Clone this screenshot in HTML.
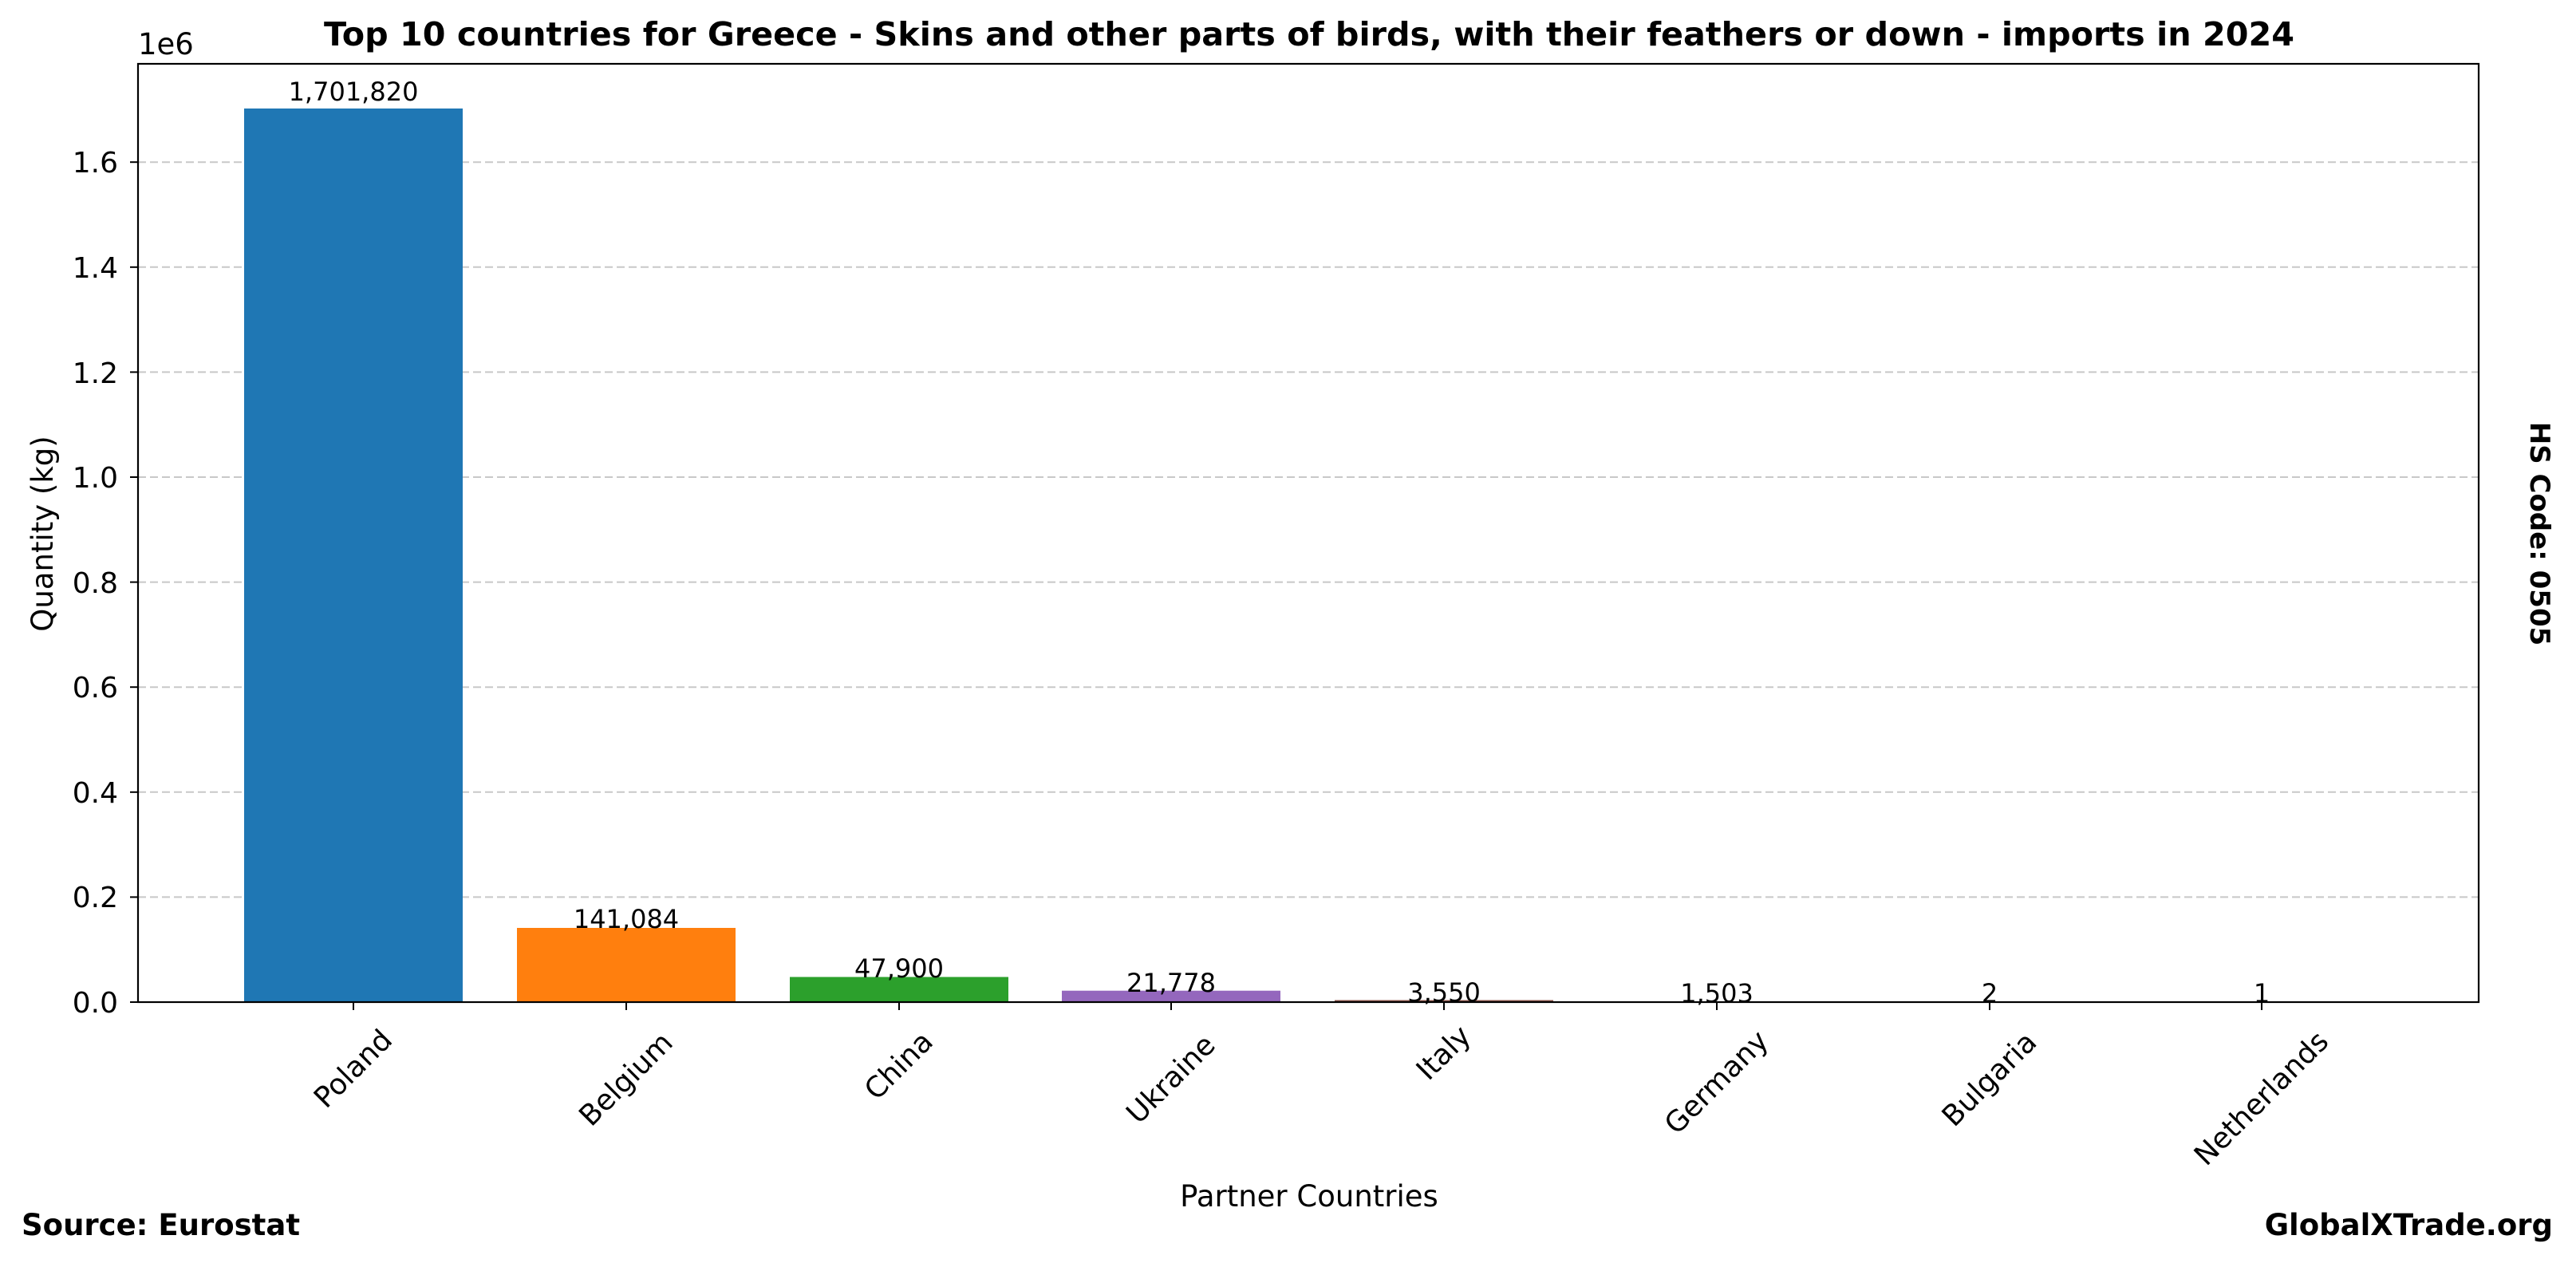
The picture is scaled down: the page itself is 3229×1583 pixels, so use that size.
<!DOCTYPE html>
<html><head><meta charset="utf-8"><style>
html,body{margin:0;padding:0;background:#fff;}
svg{display:block;font-family:"DejaVu Sans","Liberation Sans",sans-serif;}
</style></head><body>
<svg width="3229" height="1583" viewBox="0 0 3229 1583" xmlns="http://www.w3.org/2000/svg">
<rect width="3229" height="1583" fill="#fff"/>
<text x="1641" y="57" text-anchor="middle" font-size="41.3" font-weight="bold">Top 10 countries for Greece - Skins and other parts of birds, with their feathers or down - imports in 2024</text>
<g stroke="#c8c8c8" stroke-width="2" stroke-dasharray="10,5">
<line x1="173" x2="3107" y1="1124.4" y2="1124.4"/>
<line x1="173" x2="3107" y1="992.8" y2="992.8"/>
<line x1="173" x2="3107" y1="861.2" y2="861.2"/>
<line x1="173" x2="3107" y1="729.6" y2="729.6"/>
<line x1="173" x2="3107" y1="598" y2="598"/>
<line x1="173" x2="3107" y1="466.4" y2="466.4"/>
<line x1="173" x2="3107" y1="334.8" y2="334.8"/>
<line x1="173" x2="3107" y1="203.2" y2="203.2"/>
</g>
<rect x="306" y="136" width="274" height="1120" fill="#1f77b4"/>
<rect x="648" y="1163" width="274" height="93" fill="#ff7f0e"/>
<rect x="990" y="1224.5" width="274" height="31.5" fill="#2ca02c"/>
<rect x="1331" y="1241.7" width="274" height="14.3" fill="#9467bd"/>
<rect x="1673" y="1253.5" width="274" height="2.5" fill="#8c564b"/>
<rect x="2015" y="1255" width="274" height="1" fill="#e377c2"/>
<g font-size="32" text-anchor="middle">
<text x="443" y="126">1,701,820</text>
<text x="785" y="1163">141,084</text>
<text x="1127" y="1225">47,900</text>
<text x="1468" y="1243">21,778</text>
<text x="1810" y="1255">3,550</text>
<text x="2152" y="1256">1,503</text>
<text x="2494" y="1256">2</text>
<text x="2835" y="1256">1</text>
</g>
<rect x="173" y="80" width="2934" height="1176" fill="none" stroke="#000" stroke-width="2.2"/>
<g stroke="#000" stroke-width="2">
<line x1="163" x2="173" y1="1256" y2="1256"/><line x1="163" x2="173" y1="1124.4" y2="1124.4"/><line x1="163" x2="173" y1="992.8" y2="992.8"/><line x1="163" x2="173" y1="861.2" y2="861.2"/><line x1="163" x2="173" y1="729.6" y2="729.6"/><line x1="163" x2="173" y1="598" y2="598"/><line x1="163" x2="173" y1="466.4" y2="466.4"/><line x1="163" x2="173" y1="334.8" y2="334.8"/><line x1="163" x2="173" y1="203.2" y2="203.2"/>
<line x1="443" x2="443" y1="1256" y2="1266"/><line x1="785" x2="785" y1="1256" y2="1266"/><line x1="1127" x2="1127" y1="1256" y2="1266"/><line x1="1468" x2="1468" y1="1256" y2="1266"/><line x1="1810" x2="1810" y1="1256" y2="1266"/><line x1="2152" x2="2152" y1="1256" y2="1266"/><line x1="2494" x2="2494" y1="1256" y2="1266"/><line x1="2835" x2="2835" y1="1256" y2="1266"/>
</g>
<g font-size="36" text-anchor="end">
<text x="148" y="1269">0.0</text><text x="148" y="1137">0.2</text><text x="148" y="1006">0.4</text><text x="148" y="874">0.6</text><text x="148" y="743">0.8</text><text x="148" y="611">1.0</text><text x="148" y="480">1.2</text><text x="148" y="348">1.4</text><text x="148" y="216">1.6</text>
</g>
<text x="173" y="68" font-size="37">1e6</text>
<g font-size="36" text-anchor="middle" dominant-baseline="central">
<text transform="translate(443,1340) rotate(-45)">Poland</text>
<text transform="translate(785,1353) rotate(-45)">Belgium</text>
<text transform="translate(1127,1336) rotate(-45)">China</text>
<text transform="translate(1468,1353) rotate(-45)">Ukraine</text>
<text transform="translate(1810,1320) rotate(-45)">Italy</text>
<text transform="translate(2152,1357) rotate(-45)">Germany</text>
<text transform="translate(2494,1353) rotate(-45)">Bulgaria</text>
<text transform="translate(2835,1377) rotate(-45)">Netherlands</text>
</g>
<text x="1641" y="1512" font-size="37" text-anchor="middle">Partner Countries</text>
<text transform="translate(66,669) rotate(-90)" font-size="37" text-anchor="middle">Quantity (kg)</text>
<text transform="translate(3172,669) rotate(90)" font-size="34" font-weight="bold" text-anchor="middle">HS Code: 0505</text>
<text x="27" y="1548" font-size="37" font-weight="bold">Source: Eurostat</text>
<text x="3200" y="1548" font-size="37" font-weight="bold" text-anchor="end">GlobalXTrade.org</text>
</svg>
</body></html>
